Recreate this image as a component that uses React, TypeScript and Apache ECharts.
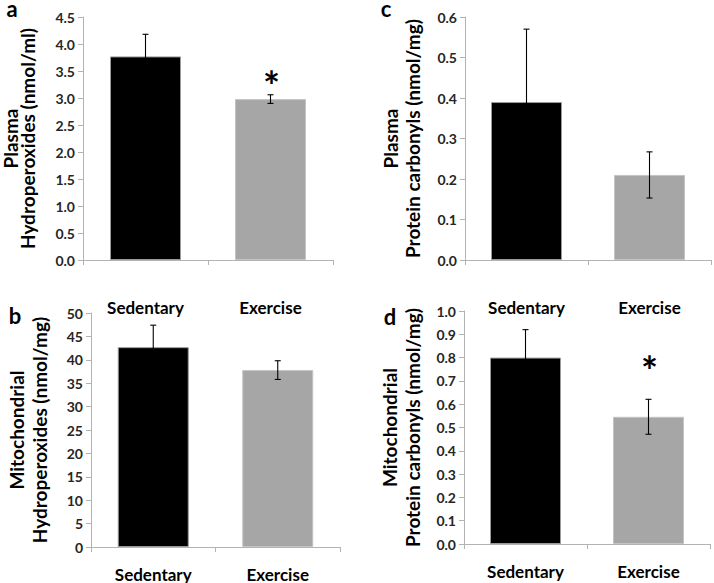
import React, { useEffect, useRef } from 'react';
import * as echarts from 'echarts';

const categories = ['Sedentary', 'Exercise'];

// a: Plasma hydroperoxides (nmol/ml)
const plasmaHydroMean = [3.77, 2.98];
const plasmaHydroErr = [0.41, 0.08];
const plasmaHydroStar = [null, 3.39];
const plasmaHydroTicks = [0, 4.5, 0.5];

// b: Mitochondrial hydroperoxides (nmol/mg)
const mitoHydroMean = [42.7, 37.8];
const mitoHydroErr = [4.7, 2.0];
const mitoHydroStar = [null, null];
const mitoHydroTicks = [0, 50, 5];

// c: Plasma protein carbonyls (nmol/mg)
const plasmaCarbMean = [0.39, 0.21];
const plasmaCarbErr = [0.18, 0.057];
const plasmaCarbStar = [null, null];
const plasmaCarbTicks = [0, 0.6, 0.1];

// d: Mitochondrial protein carbonyls (nmol/mg)
const mitoCarbMean = [0.8, 0.546];
const mitoCarbErr = [0.12, 0.075];
const mitoCarbStar = [null, 0.78];
const mitoCarbTicks = [0, 1.0, 0.1];

const FONT = 'Lato, "Open Sans", sans-serif';
const AXIS_GRAY = '#b3b3b3';
const BAR_COLORS = ['#000000', '#a6a6a6'];
const BAR_BORDERS = ['#9a9a9a', '#c4c4c4'];

type Panel = {
  letter: string;
  letterPos: [number, number];
  title: string;
  mean: number[];
  err: number[];
  star: (number | null)[];
  ticks: number[];
  decimals: number;
  grid: { left: number; top: number; width: number; height: number };
  nameGap: number;
  nameLineHeight: number;
  labelMargin: number;
};

const panels: Panel[] = [
  {
    letter: 'a', letterPos: [12, 8],
    title: 'Plasma\nHydroperoxides (nmol/ml)',
    mean: plasmaHydroMean, err: plasmaHydroErr, star: plasmaHydroStar,
    ticks: plasmaHydroTicks, decimals: 1,
    grid: { left: 82, top: 17, width: 251, height: 243 },
    nameGap: 47, nameLineHeight: 17, labelMargin: 39,
  },
  {
    letter: 'b', letterPos: [15, 315],
    title: 'Mitochondrial\nHydroperoxides (nmol/mg)',
    mean: mitoHydroMean, err: mitoHydroErr, star: mitoHydroStar,
    ticks: mitoHydroTicks, decimals: 0,
    grid: { left: 91, top: 313, width: 249, height: 234 },
    nameGap: 40, nameLineHeight: 23, labelMargin: 19,
  },
  {
    letter: 'c', letterPos: [386, 8],
    title: 'Plasma\nProtein carbonyls (nmol/mg)',
    mean: plasmaCarbMean, err: plasmaCarbErr, star: plasmaCarbStar,
    ticks: plasmaCarbTicks, decimals: 1,
    grid: { left: 465, top: 17, width: 246, height: 243 },
    nameGap: 42, nameLineHeight: 22, labelMargin: 39,
  },
  {
    letter: 'd', letterPos: [390, 316],
    title: 'Mitochondrial\nProtein carbonyls (nmol/mg)',
    mean: mitoCarbMean, err: mitoCarbErr, star: mitoCarbStar,
    ticks: mitoCarbTicks, decimals: 1,
    grid: { left: 464, top: 311, width: 246, height: 233 },
    nameGap: 40, nameLineHeight: 23, labelMargin: 19,
  },
];

function buildOption() {
  const grid: any[] = [];
  const xAxis: any[] = [];
  const yAxis: any[] = [];
  const series: any[] = [];
  const graphic: any[] = [];

  panels.forEach((p, i) => {
    grid.push({ ...p.grid, containLabel: false });
    xAxis.push({
      type: 'category',
      gridIndex: i,
      data: categories,
      axisLine: { show: true, lineStyle: { color: AXIS_GRAY, width: 1 } },
      axisTick: { show: true, length: 5, lineStyle: { color: AXIS_GRAY } },
      axisLabel: {
        margin: p.labelMargin,
        fontFamily: FONT,
        fontWeight: 'bold',
        fontSize: 17,
        color: '#000',
      },
    });
    yAxis.push({
      type: 'value',
      gridIndex: i,
      min: p.ticks[0],
      max: p.ticks[1],
      interval: p.ticks[2],
      splitLine: { show: false },
      axisLine: { show: true, lineStyle: { color: AXIS_GRAY, width: 1 } },
      axisTick: { show: true, length: 5, lineStyle: { color: AXIS_GRAY } },
      axisLabel: {
        margin: 8,
        fontFamily: FONT,
        fontWeight: 'bold',
        fontSize: 14,
        color: '#262626',
        formatter: (v: number) => v.toFixed(p.decimals),
      },
      name: p.title,
      nameLocation: 'middle',
      nameRotate: 90,
      nameGap: p.nameGap,
      nameTextStyle: {
        fontFamily: FONT,
        fontWeight: 'bold',
        fontSize: 19,
        lineHeight: p.nameLineHeight,
        color: '#000',
      },
    });
    series.push({
      type: 'bar',
      xAxisIndex: i,
      yAxisIndex: i,
      barWidth: 71,
      data: p.mean.map((v, k) => ({
        value: v,
        itemStyle: { color: BAR_COLORS[k], borderColor: BAR_BORDERS[k], borderWidth: 1 },
      })),
    });
    series.push({
      type: 'custom',
      xAxisIndex: i,
      yAxisIndex: i,
      z: 5,
      data: p.mean.map((v, k) => [k, v, p.err[k]]),
      renderItem: (params: any, api: any) => {
        const k = api.value(0);
        const m = api.value(1);
        const e = api.value(2);
        const top = api.coord([k, m + e]);
        const bot = api.coord([k, m - e]);
        const half = 3;
        const st = { stroke: '#000000', lineWidth: 1.1 };
        return {
          type: 'group',
          children: [
            { type: 'line', shape: { x1: top[0], y1: top[1], x2: bot[0], y2: bot[1] }, style: st },
            { type: 'line', shape: { x1: top[0] - half, y1: top[1], x2: top[0] + half, y2: top[1] }, style: st },
            { type: 'line', shape: { x1: bot[0] - half, y1: bot[1], x2: bot[0] + half, y2: bot[1] }, style: st },
          ],
        };
      },
    });
    const starData = p.star
      .map((s, k) => (s === null ? null : [k, s]))
      .filter((d) => d !== null);
    if (starData.length) {
      series.push({
        type: 'custom',
        xAxisIndex: i,
        yAxisIndex: i,
        z: 6,
        data: starData,
        renderItem: (params: any, api: any) => {
          const pt = api.coord([api.value(0), api.value(1)]);
          return {
            type: 'text',
            x: pt[0] + 1,
            y: pt[1] + 9,
            style: {
              text: '*',
              fontFamily: FONT,
              fontWeight: 'bold',
              fontSize: 40,
              fill: '#000',
              align: 'center',
              verticalAlign: 'middle',
            },
          };
        },
      });
    }
    graphic.push({
      type: 'text',
      x: p.letterPos[0],
      y: p.letterPos[1],
      style: {
        text: p.letter,
        fontFamily: FONT,
        fontWeight: 'bold',
        fontSize: 22,
        fill: '#000',
        align: 'center',
        verticalAlign: 'middle',
      },
    });
  });

  return { animation: false, backgroundColor: '#ffffff', grid, xAxis, yAxis, series, graphic };
}

export default function App() {
  const ref = useRef<HTMLDivElement>(null);
  useEffect(() => {
    if (!ref.current) return;
    const chart = echarts.init(ref.current, undefined, { renderer: 'svg' });
    chart.setOption(buildOption() as any);
    return () => chart.dispose();
  }, []);
  return (
    <div
      ref={ref}
      style={{ position: 'fixed', left: 0, top: 0, width: 714, height: 583, background: '#fff' }}
    />
  );
}
